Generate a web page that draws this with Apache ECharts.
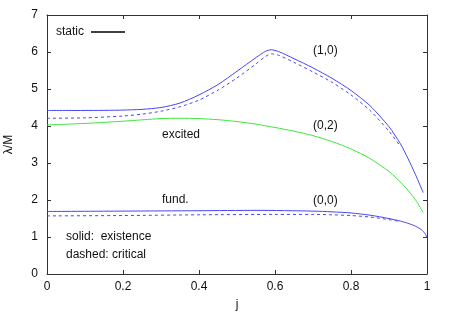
<!DOCTYPE html>
<html>
<head>
<meta charset="utf-8">
<script src="https://cdn.jsdelivr.net/npm/echarts@6/dist/echarts.min.js"></script>
<style>html,body{margin:0;padding:0;background:#fff}#c{width:450px;height:315px}</style>
</head>
<body>
<div id="c"></div>
<script>
// (1,0) excited branch, solid = existence
const j10 = [0, 0.1, 0.2, 0.25, 0.3, 0.35, 0.4, 0.45, 0.5, 0.55, 0.575, 0.59, 0.61, 0.65, 0.7, 0.75, 0.8, 0.85, 0.9, 0.93, 0.95, 0.97, 0.99];
const existence10 = [4.42, 4.42, 4.43, 4.45, 4.5, 4.62, 4.84, 5.12, 5.48, 5.85, 6.02, 6.06, 6.01, 5.82, 5.57, 5.29, 4.96, 4.55, 3.98, 3.52, 3.12, 2.68, 2.2];
// (1,0) dashed = critical
const jc10 = [0, 0.1, 0.2, 0.25, 0.3, 0.35, 0.4, 0.45, 0.5, 0.55, 0.575, 0.59, 0.61, 0.65, 0.7, 0.75, 0.8, 0.85, 0.9, 0.93];
const critical10 = [4.21, 4.22, 4.27, 4.32, 4.4, 4.52, 4.7, 4.97, 5.3, 5.68, 5.88, 5.95, 5.91, 5.72, 5.46, 5.18, 4.84, 4.42, 3.86, 3.45];
// (0,2) excited (green)
const j02 = [0, 0.1, 0.2, 0.3, 0.35, 0.4, 0.45, 0.5, 0.55, 0.6, 0.65, 0.7, 0.75, 0.8, 0.85, 0.9, 0.94, 0.97, 0.99];
const existence02 = [4.03, 4.07, 4.13, 4.2, 4.21, 4.2, 4.17, 4.12, 4.05, 3.96, 3.86, 3.74, 3.58, 3.38, 3.12, 2.77, 2.38, 2.0, 1.66];
// (0,0) fundamental
const j00 = [0, 0.2, 0.4, 0.55, 0.7, 0.75, 0.8, 0.85, 0.9, 0.93, 0.95, 0.97, 0.985, 0.995, 1.0];
const existence00 = [1.69, 1.70, 1.71, 1.72, 1.70, 1.68, 1.65, 1.59, 1.5, 1.43, 1.37, 1.29, 1.2, 1.09, 0.98];
const jc00 = [0, 0.2, 0.4, 0.6, 0.7, 0.75, 0.8, 0.85, 0.9, 0.93];
const critical00 = [1.57, 1.58, 1.6, 1.61, 1.61, 1.6, 1.58, 1.54, 1.47, 1.42];

const xTicks = [0, 0.2, 0.4, 0.6, 0.8, 1];
const yTicks = [0, 1, 2, 3, 4, 5, 6, 7];

const BLUE = '#4646f5';
const GREEN = '#3ee63e';
const FONT = 'Liberation Sans';
const pair = (xs, ys) => xs.map((x, i) => [x, ys[i]]);

const chart = echarts.init(document.getElementById('c'), null, {renderer: 'canvas'});
const axisCommon = {
  axisLine: {show: true, onZero: false, lineStyle: {color: '#333', width: 1}},
  axisTick: {show: true, inside: true, length: 4, lineStyle: {color: '#333'}},
  splitLine: {show: false}
};
function line(name, data, color, dashed) {
  return {
    name: name, type: 'line', data: data, showSymbol: false, smooth: 0.25,
    lineStyle: {color: color, width: 1, type: dashed ? [3, 3] : 'solid'},
    itemStyle: {color: color}, animation: false, silent: true
  };
}
chart.setOption({
  animation: false,
  textStyle: {fontFamily: FONT},
  grid: {left: 47, right: 23, top: 15, bottom: 41, containLabel: false, outerBoundsMode: 'none'},
  legend: {
    data: ['static'], left: 56, top: 26, padding: 0, align: 'right',
    icon: 'rect', itemWidth: 34, itemHeight: 1.5, itemGap: 8,
    textStyle: {fontFamily: FONT, fontSize: 12, color: '#111', padding: [0, 2, 0, 0]}
  },
  xAxis: [
    Object.assign({}, axisCommon, {
      type: 'value', min: xTicks[0], max: xTicks[xTicks.length - 1], interval: 0.2, position: 'bottom',
      axisLabel: {fontFamily: FONT, fontSize: 12, color: '#111', margin: 7,
        formatter: v => (Math.abs(v) < 1e-9 ? '0' : (Math.abs(v - 1) < 1e-9 ? '1' : String(+v.toFixed(1))))},
      name: 'j', nameLocation: 'middle', nameGap: 25,
      nameTextStyle: {fontFamily: FONT, fontSize: 12, color: '#111'}
    }),
    Object.assign({}, axisCommon, {
      type: 'value', min: 0, max: 1, interval: 0.2, position: 'top', axisLabel: {show: false}
    })
  ],
  yAxis: [
    Object.assign({}, axisCommon, {
      type: 'value', min: yTicks[0], max: yTicks[yTicks.length - 1], interval: 1, position: 'left',
      axisLabel: {fontFamily: FONT, fontSize: 12, color: '#111', margin: 9},
      name: 'λ/M', nameLocation: 'middle', nameGap: 32, nameRotate: 90,
      nameTextStyle: {fontFamily: FONT, fontSize: 12, color: '#111'}
    }),
    Object.assign({}, axisCommon, {
      type: 'value', min: 0, max: 7, interval: 1, position: 'right', axisLabel: {show: false}
    })
  ],
  series: [
    {name: 'static', type: 'line', data: [], lineStyle: {color: '#000', width: 1.5}, itemStyle: {color: '#000'}},
    line('(1,0) existence', pair(j10, existence10), BLUE, false),
    line('(1,0) critical', pair(jc10, critical10), BLUE, true),
    line('(0,2) existence', pair(j02, existence02), GREEN, false),
    line('(0,0) existence', pair(j00, existence00), BLUE, false),
    line('(0,0) critical', pair(jc00, critical00), BLUE, true)
  ],
  graphic: [
    {type: 'text', left: 313, top: 45, style: {text: '(1,0)', font: '12px "Liberation Sans"', fill: '#111'}},
    {type: 'text', left: 162, top: 129, style: {text: 'excited', font: '12px "Liberation Sans"', fill: '#111'}},
    {type: 'text', left: 313, top: 120, style: {text: '(0,2)', font: '12px "Liberation Sans"', fill: '#111'}},
    {type: 'text', left: 162, top: 194, style: {text: 'fund.', font: '12px "Liberation Sans"', fill: '#111'}},
    {type: 'text', left: 313, top: 195, style: {text: '(0,0)', font: '12px "Liberation Sans"', fill: '#111'}},
    {type: 'text', left: 66, top: 231, style: {text: 'solid:  existence', font: '12px "Liberation Sans"', fill: '#111'}},
    {type: 'text', left: 66, top: 249, style: {text: 'dashed: critical', font: '12px "Liberation Sans"', fill: '#111'}}
  ]
});
</script>
</body>
</html>
